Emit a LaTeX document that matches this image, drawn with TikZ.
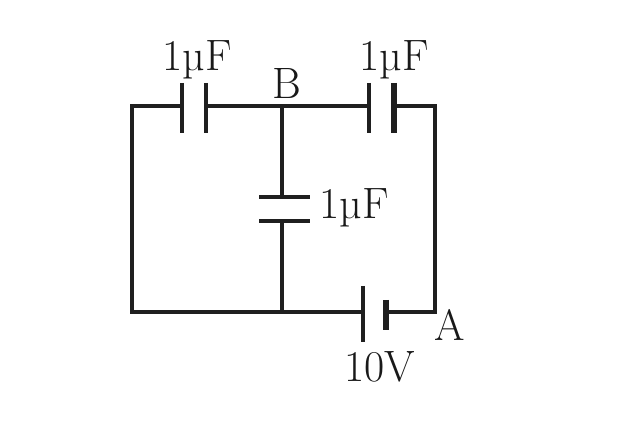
\documentclass[tikz,border=0pt]{standalone}
\usepackage{tikz}
\tikzset{
	wire/.style={line width=0.07cm,color=black!88},
	plate/.style={line width=0.08cm,color=black!88},
	thickplate/.style={line width=0.11cm,color=black!88},
	lbl/.style={font=\fontsize{25}{27}\selectfont,inner sep=0pt,color=black!90}
}
\begin{document}
\begin{tikzpicture}
	\useasboundingbox (0,0) rectangle (12.46,8.48);
	\coordinate (TL) at (2.64,6.36);
	\coordinate (TR) at (8.7,6.36);
	\coordinate (BL) at (2.64,2.24);
	\coordinate (A) at (8.7,2.24);
	\coordinate (B) at (5.64,6.36);
	\coordinate (D) at (5.64,2.24);
	% left capacitor
	\coordinate (P1a) at (3.64,6.36);
	\coordinate (P1b) at (4.12,6.36);
	% right capacitor
	\coordinate (P2a) at (7.38,6.36);
	\coordinate (P2b) at (7.88,6.36);
	% middle capacitor
	\coordinate (P3a) at (5.64,4.54);
	\coordinate (P3b) at (5.64,4.06);
	% battery
	\coordinate (P4a) at (7.26,2.24);
	\coordinate (P4b) at (7.72,2.24);
	\draw[wire,line join=miter] (P1a) -- (TL) -- (BL) -- (P4a);
	\draw[wire,line join=miter] (P2b) -- (TR) -- (A) -- (P4b);
	\draw[wire] (P1b) -- (P2a);
	\draw[wire] (B) -- (P3a);
	\draw[wire] (P3b) -- (D);
	\draw[plate] ([yshift=0.46cm]P1a) -- ([yshift=-0.54cm]P1a);
	\draw[plate] ([yshift=0.46cm]P1b) -- ([yshift=-0.54cm]P1b);
	\draw[plate] ([yshift=0.46cm]P2a) -- ([yshift=-0.54cm]P2a);
	\draw[thickplate] ([yshift=0.46cm]P2b) -- ([yshift=-0.54cm]P2b);
	\draw[plate] ([xshift=-0.46cm]P3a) -- ([xshift=0.56cm]P3a);
	\draw[plate] ([xshift=-0.46cm]P3b) -- ([xshift=0.56cm]P3b);
	\draw[plate] ([yshift=0.52cm]P4a) -- ([yshift=-0.6cm]P4a);
	\draw[thickplate] ([yshift=0.24cm]P4b) -- ([yshift=-0.36cm]P4b);
	\node[lbl] (c1) at (3.94,7.28) {1µF};
	\node[lbl] (c2) at (7.88,7.28) {1µF};
	\node[lbl] (c3) at (7.08,4.32) {1µF};
	\node[lbl] (nb) at (5.74,6.82) {B};
	\node[lbl] (na) at (9.0,1.98) {A};
	\node[lbl] (v) at (7.6,1.14) {10V};
\end{tikzpicture}
\end{document}
